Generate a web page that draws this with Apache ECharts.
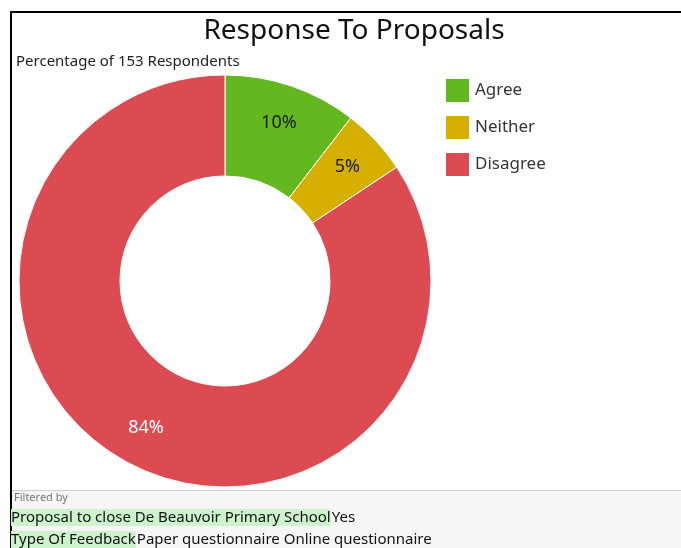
<!DOCTYPE html>
<html>
<head>
<meta charset="utf-8">
<script src="https://cdn.jsdelivr.net/npm/echarts@6/dist/echarts.min.js"></script>
<style>
html,body{margin:0;padding:0;background:#fff;}
#c{width:681px;height:548px;}
</style>
</head>
<body>
<div id="c"></div>
<script>
const categories = ['Agree', 'Neither', 'Disagree'];
const counts = [16, 8, 129];
const totalRespondents = 153;
const titleText = 'Response To Proposals';
const subtitleText = 'Percentage of ' + totalRespondents + ' Respondents';
const filterLines = [
  ['Proposal to close De Beauvoir Primary School', 'Yes'],
  ['Type Of Feedback', 'Paper questionnaire Online questionnaire']
];

const colors = ['#64b81f', '#d6b000', '#dc4a52'];
const labelColors = ['#1a1a1a', '#1a1a1a', '#ffffff'];
const FONT = '"Noto Sans", "Open Sans", sans-serif';

const chart = echarts.init(document.getElementById('c'), null, {renderer: 'canvas'});

const pieData = categories.map((n, i) => ({name: n, value: counts[i], itemStyle: {color: colors[i]}}));
const labelData = categories.map((n, i) => ({
  name: n, value: counts[i],
  itemStyle: {color: 'rgba(0,0,0,0)', borderWidth: 0},
  label: {color: labelColors[i]}
}));

const richFooter = {
  h: {backgroundColor: '#cdf3cd', padding: [1, 0, 1, 0], fontSize: 15, fontFamily: FONT, color: '#111'},
  n: {fontSize: 15, fontFamily: FONT, padding: [1, 0, 1, 1], color: '#111'}
};

chart.setOption({
  animation: false,
  color: colors,
  title: [{
    text: titleText,
    left: 354, top: 17, textAlign: 'center', padding: 0,
    textStyle: {fontFamily: FONT, fontSize: 28, fontWeight: 'normal', color: '#111'}
  }, {
    text: subtitleText,
    left: 16, top: 54, padding: 0,
    textStyle: {fontFamily: FONT, fontSize: 15, fontWeight: 'normal', color: '#222'}
  }],
  legend: {
    orient: 'vertical',
    left: 444, top: 77, padding: 0,
    itemWidth: 25, itemHeight: 25, itemGap: 10,
    icon: 'rect',
    data: categories,
    textStyle: {fontFamily: FONT, fontSize: 17, color: '#333'}
  },
  graphic: [
    {type: 'rect', shape: {x: 10, y: 490, width: 671, height: 58}, style: {fill: '#f6f6f6'}, z: 0},
    {type: 'line', shape: {x1: 11, y1: 490.5, x2: 681, y2: 490.5}, style: {stroke: '#cfcfcf', lineWidth: 1}},
    {type: 'line', shape: {x1: 11, y1: 12, x2: 681, y2: 12}, style: {stroke: '#000', lineWidth: 2}},
    {type: 'line', shape: {x1: 11, y1: 11, x2: 11, y2: 548}, style: {stroke: '#000', lineWidth: 2}},
    {type: 'text', x: 14, y: 492, style: {text: 'Filtered by', font: '11px ' + FONT, fill: '#777'}},
    {type: 'text', x: 11, y: 509, style: {
      text: '{h|' + filterLines[0][0] + '}{n|' + filterLines[0][1] + '}',
      font: '15px ' + FONT, fill: '#111', rich: richFooter
    }},
    {type: 'text', x: 11, y: 531, style: {
      text: '{h|' + filterLines[1][0] + '}{n|' + filterLines[1][1] + '}',
      font: '15px ' + FONT, fill: '#111', rich: richFooter
    }}
  ],
  series: [{
    type: 'pie',
    center: [225, 281],
    radius: [105, 206],
    startAngle: 90,
    label: {show: false},
    labelLine: {show: false},
    itemStyle: {borderColor: '#fff', borderWidth: 1},
    emphasis: {disabled: true},
    data: pieData
  }, {
    type: 'pie',
    center: [225, 281],
    radius: [126, 202],
    startAngle: 90,
    silent: true,
    label: {
      show: true, position: 'inside',
      fontFamily: FONT, fontSize: 18,
      formatter: p => Math.round(p.percent) + '%'
    },
    labelLine: {show: false},
    emphasis: {disabled: true},
    data: labelData
  }]
});
</script>
</body>
</html>
